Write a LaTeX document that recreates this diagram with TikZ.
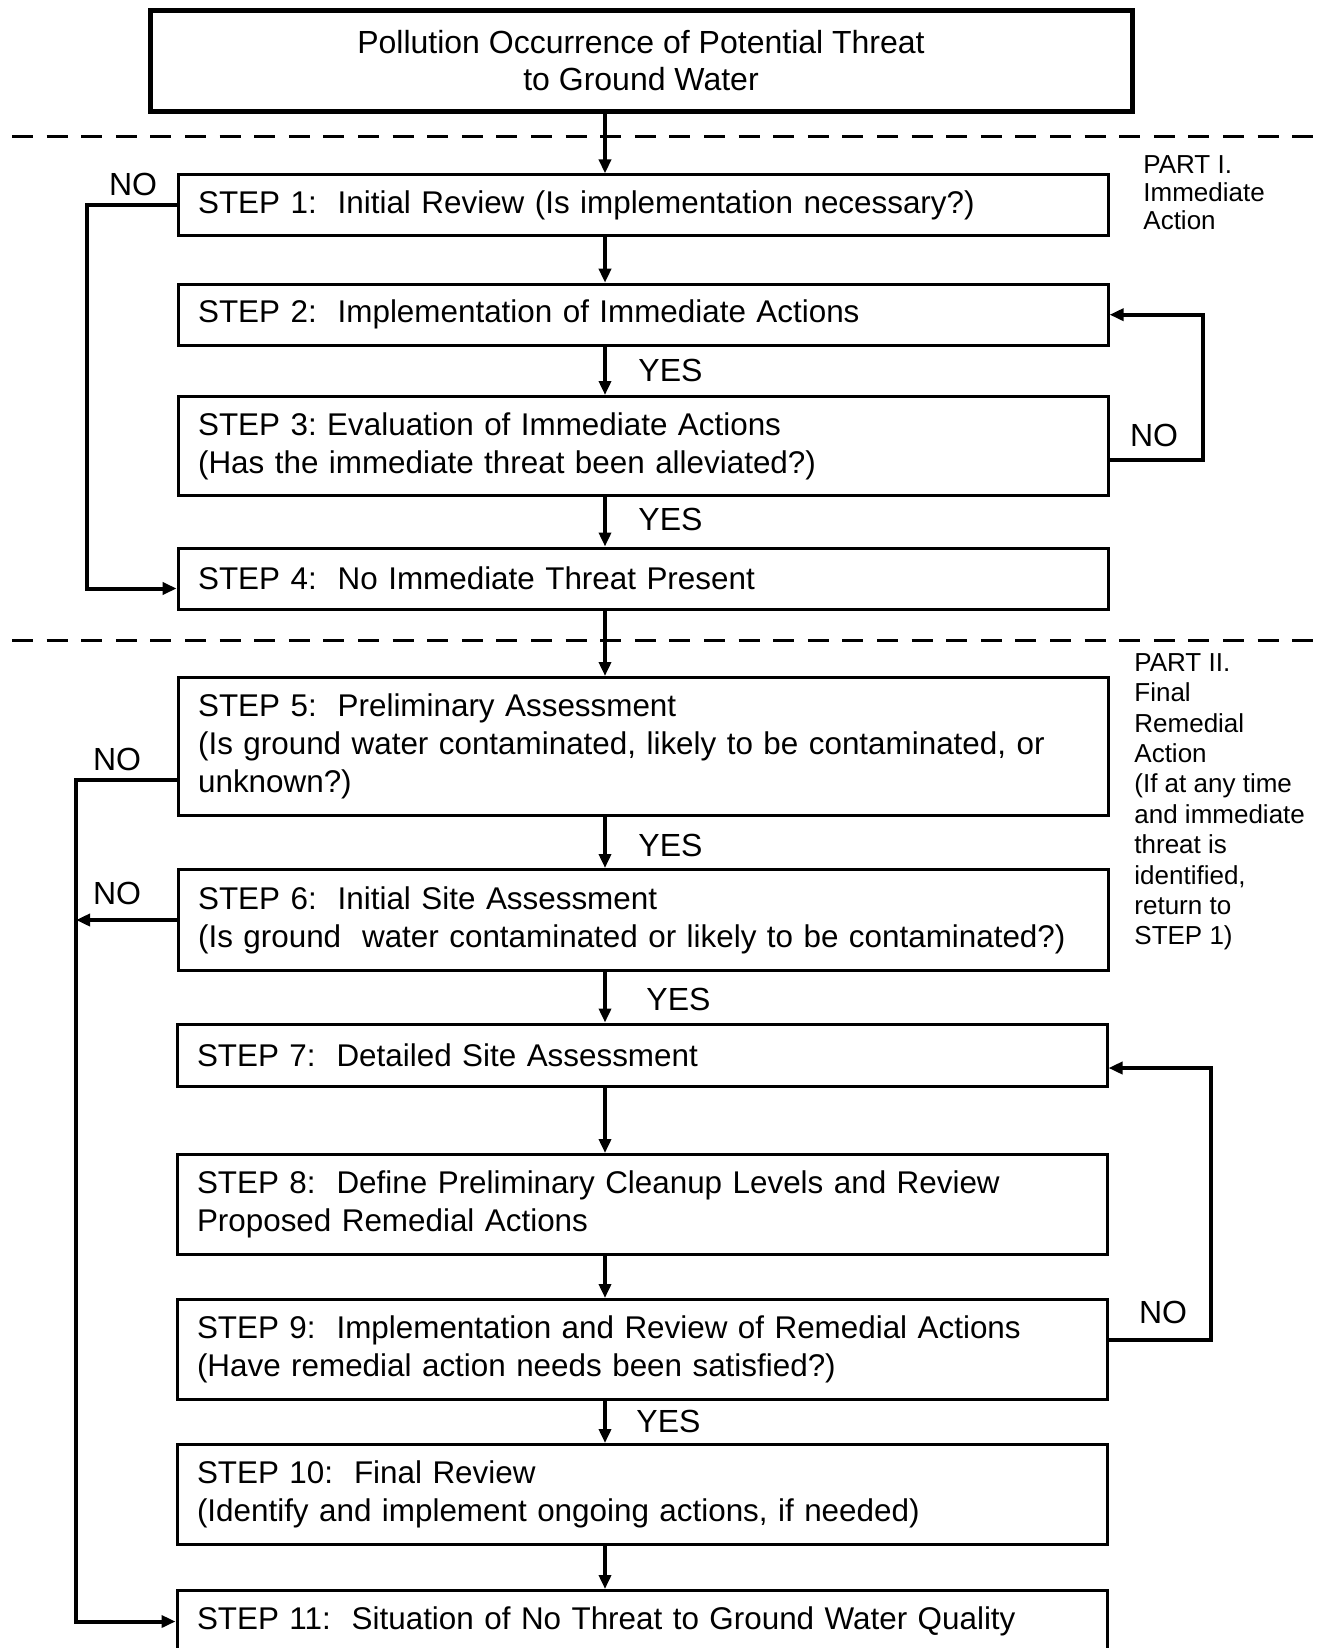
\documentclass[tikz,border=0pt]{standalone}
\usepackage{fontspec}
\setmainfont{Liberation Sans}
\usetikzlibrary{arrows.meta,positioning,calc}

\begin{document}
\begin{tikzpicture}[
    x=0.5pt, y=-0.5pt,
    stepbox/.style={rectangle, draw=black, line width=1.5pt, anchor=north west, text width=445pt, inner xsep=10pt, inner ysep=0pt, align=left, font=\fontsize{15.7}{19}\selectfont},
    topbox/.style={rectangle, draw=black, line width=2.5pt, minimum width=491pt, minimum height=50.5pt, align=center, font=\fontsize{16}{18.5}\selectfont},
    lbl/.style={inner sep=0pt, font=\fontsize{16}{19}\selectfont},
    part/.style={anchor=north west, align=left, inner sep=0pt, font=\fontsize{13}{14}\selectfont},
    sep/.style={dash pattern=on 10.5pt off 6.8pt, line width=1.5pt},
    arr/.style={-{Triangle[length=7pt, width=6pt]}, line width=2pt}
]
    \useasboundingbox (0,0) rectangle (1321,1648);

    \draw[sep] (12,137) -- (1316,137);
    \draw[sep] (12,640) -- (1316,640);

    \node[topbox] (src) at (641,61) {Pollution Occurrence of Potential Threat\\to Ground Water};

    \node[stepbox, minimum height=30.5pt] (s1) at (176.6,173.4) {STEP 1:\ \ Initial Review (Is implementation necessary?)};
    \node[stepbox, minimum height=30.5pt] (s2) at (176.6,282.7) {STEP 2:\ \ Implementation of Immediate Actions};
    \node[stepbox, minimum height=49.5pt] (s3) at (176.6,395) {STEP 3:\ Evaluation of Immediate Actions\\(Has the immediate threat been alleviated?)};
    \node[stepbox, minimum height=30.5pt] (s4) at (176.6,546.5) {STEP 4:\ \ No Immediate Threat Present};
    \node[stepbox, minimum height=69pt] (s5) at (176.6,676) {STEP 5:\ \ Preliminary Assessment\\(Is ground water contaminated, likely to be contaminated, or\\unknown?)};
    \node[stepbox, minimum height=50.5pt] (s6) at (176.6,868) {STEP 6:\ \ Initial Site Assessment\\(Is ground\ \ water contaminated or likely to be contaminated?)};
    \node[stepbox, minimum height=31pt] (s7) at (175.5,1022.5) {STEP 7:\ \ Detailed Site Assessment};
    \node[stepbox, minimum height=50pt] (s8) at (175.5,1153) {STEP 8:\ \ Define Preliminary Cleanup Levels and Review\\Proposed Remedial Actions};
    \node[stepbox, minimum height=50pt] (s9) at (175.5,1298) {STEP 9:\ \ Implementation and Review of Remedial Actions\\(Have remedial action needs been satisfied?)};
    \node[stepbox, minimum height=50pt] (s10) at (175.5,1443) {STEP 10:\ \ Final Review\\(Identify and implement ongoing actions, if needed)};
    \node[stepbox, minimum height=31pt] (s11) at (175.5,1589) {STEP 11:\ \ Situation of No Threat to Ground Water Quality};

    \node[part] (p1) at (1143,155) {PART I.\\Immediate\\Action};
    \node[part, font=\fontsize{13}{15.2}\selectfont] (p2) at (1134,653) {PART II.\\Final\\Remedial\\Action\\(If at any time\\and immediate\\threat is\\identified,\\return to\\STEP 1)};

    \coordinate (spine) at (605,0);
    \coordinate (l1) at (87,0);
    \coordinate (l2) at (76,0);
    \coordinate (r1) at (1203,0);
    \coordinate (r2) at (1211,0);

    \foreach \a/\b in {src/s1, s1/s2, s2/s3, s3/s4, s4/s5, s5/s6, s6/s7, s7/s8, s8/s9, s9/s10, s10/s11}
        \draw[arr] (\a.south -| spine) -- (\b.north -| spine);

    \draw[arr] (s1.west) -- (s1.west -| l1) |- ([yshift=-5pt]s4.west);
    \draw[arr] ([yshift=-7pt]s3.east) -- ([yshift=-7pt]s3.east -| r1) |- (s2.east);
    \draw[arr] ([yshift=-16.5pt]s5.west) -- ([yshift=-16.5pt]s5.west -| l2) |- (s11.west);
    \draw[arr] (s6.west) -- (s6.west -| l2);
    \draw[arr] ([yshift=5pt]s9.east) -- ([yshift=5pt]s9.east -| r2) |- ([yshift=-6.5pt]s7.east);

    \node[lbl] (no1) at (133,184) {NO};
    \node[lbl] (no2) at (1154,435) {NO};
    \node[lbl] (no3) at (117,759) {NO};
    \node[lbl] (no4) at (117,893) {NO};
    \node[lbl] (no5) at (1163,1312) {NO};
    \node[lbl, anchor=west] (yes1) at (638,370) {YES};
    \node[lbl, anchor=west] (yes2) at (638,519) {YES};
    \node[lbl, anchor=west] (yes3) at (638,845) {YES};
    \node[lbl, anchor=west] (yes4) at (646,999) {YES};
    \node[lbl, anchor=west] (yes5) at (636,1421) {YES};
\end{tikzpicture}
\end{document}
